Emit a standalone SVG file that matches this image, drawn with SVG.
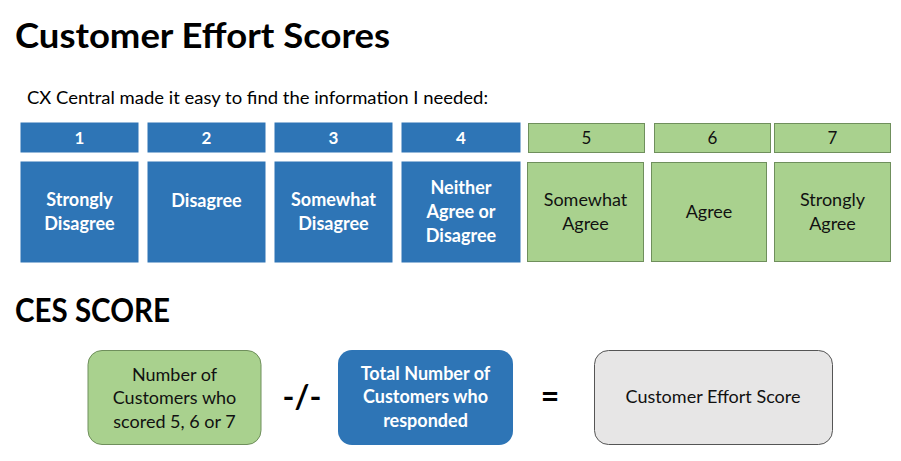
<svg xmlns="http://www.w3.org/2000/svg" width="901" height="461" viewBox="0 0 901 461">
<style>
text{font-family:Lato,"Open Sans","Liberation Sans",sans-serif;text-anchor:middle}
.h{font-weight:700;font-size:35px;text-anchor:start;fill:#000}
.sub{font-size:17px;text-anchor:start;fill:#000}
.blue{fill:#2E75B6;stroke:#2E75B6}
.green{fill:#A9D18E;stroke:#6F8F5C;stroke-width:1}
.wt{fill:#fff;font-size:18px;font-weight:700}
.bt{fill:#111;font-size:18px}
.num{font-size:17px}
.op{font-weight:700;font-size:32px;fill:#000}
</style>
<text class="h" x="15" y="48" textLength="375" lengthAdjust="spacingAndGlyphs">Customer Effort Scores</text>
<text class="sub" x="27" y="104" textLength="461" lengthAdjust="spacingAndGlyphs">CX Central made it easy to find the information I needed:</text>
<g id="n1"><rect class="blue" x="21" y="123" width="117" height="29"/><text class="wt num" x="79.5" y="144">1</text>
<rect class="blue" x="21" y="162" width="117" height="100"/><text class="wt" x="79.5" y="206">Strongly</text><text class="wt" x="79.5" y="230">Disagree</text></g>
<g id="n2"><rect class="blue" x="148" y="123" width="117" height="29"/><text class="wt num" x="206.5" y="144">2</text>
<rect class="blue" x="148" y="162" width="117" height="100"/><text class="wt" x="206.5" y="207">Disagree</text></g>
<g id="n3"><rect class="blue" x="275" y="123" width="117" height="29"/><text class="wt num" x="333.5" y="144">3</text>
<rect class="blue" x="275" y="162" width="117" height="100"/><text class="wt" x="333.5" y="206">Somewhat</text><text class="wt" x="333.5" y="230">Disagree</text></g>
<g id="n4"><rect class="blue" x="402" y="123" width="118" height="29"/><text class="wt num" x="461" y="144">4</text>
<rect class="blue" x="402" y="162" width="118" height="100"/><text class="wt" x="461" y="194">Neither</text><text class="wt" x="461" y="218">Agree or</text><text class="wt" x="461" y="242">Disagree</text></g>
<g id="n5"><rect class="green" x="528.5" y="123.5" width="116" height="29"/><text class="bt num" x="586.5" y="144">5</text>
<rect class="green" x="527.5" y="162.5" width="116" height="99"/><text class="bt" x="585.5" y="206">Somewhat</text><text class="bt" x="585.5" y="230">Agree</text></g>
<g id="n6"><rect class="green" x="654.5" y="123.5" width="116" height="29"/><text class="bt num" x="712.5" y="144">6</text>
<rect class="green" x="651.5" y="162.5" width="115" height="99"/><text class="bt" x="709" y="218">Agree</text></g>
<g id="n7"><rect class="green" x="774.5" y="123.5" width="116" height="29"/><text class="bt num" x="832.5" y="144">7</text>
<rect class="green" x="774.5" y="162.5" width="116" height="99"/><text class="bt" x="832.5" y="206">Strongly</text><text class="bt" x="832.5" y="230">Agree</text></g>
<text class="h" x="15" y="322" style="font-size:32px" textLength="155" lengthAdjust="spacingAndGlyphs">CES SCORE</text>
<g id="numerator"><rect x="88" y="350.5" width="173" height="94" rx="14" fill="#A9D18E" stroke="#6F8F5C"/>
<text class="bt" x="174.5" y="381">Number of</text><text class="bt" x="174.5" y="404">Customers who</text><text class="bt" x="174.5" y="428">scored 5, 6 or 7</text></g>
<text class="op" x="302" y="408">-/-</text>
<g id="denominator"><rect x="338" y="350" width="175" height="95" rx="14" fill="#2E75B6"/>
<text class="wt" x="425.5" y="380">Total Number of</text><text class="wt" x="425.5" y="403">Customers who</text><text class="wt" x="425.5" y="427">responded</text></g>
<text class="op" x="550" y="408">=</text>
<g id="result"><rect x="594.5" y="350.5" width="238" height="94" rx="14" fill="#E7E6E6" stroke="#555"/>
<text class="bt" x="713" y="403">Customer Effort Score</text></g>
</svg>
